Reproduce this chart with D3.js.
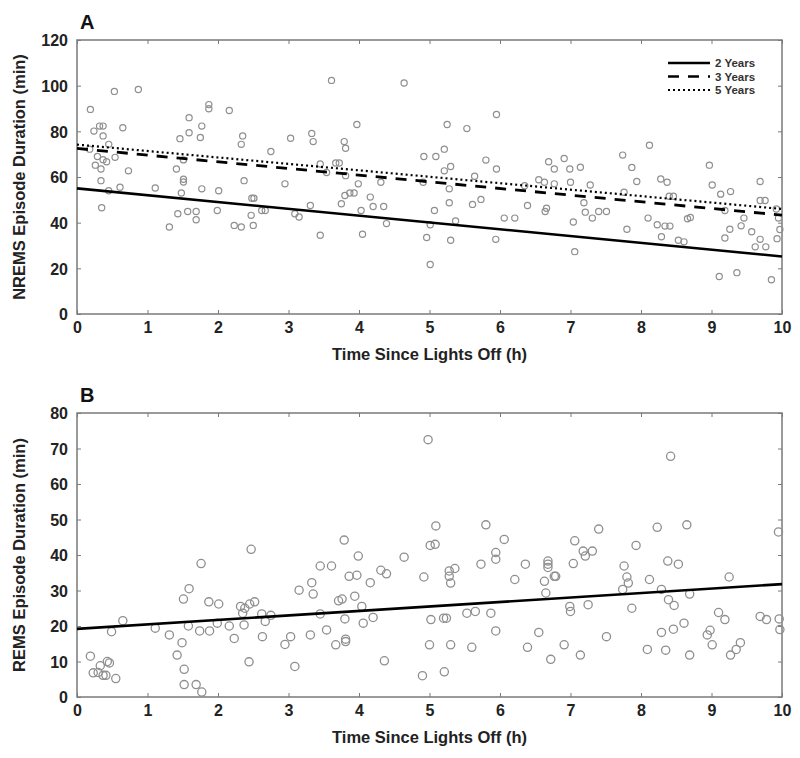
<!DOCTYPE html>
<html><head><meta charset="utf-8">
<script src="https://cdn.jsdelivr.net/npm/d3@7"></script>
<style>
body{margin:0;background:#fff;}
svg text{font-family:"Liberation Sans",Arial,Helvetica,sans-serif;font-weight:bold;}
</style></head>
<body><svg id="c" width="800" height="758"></svg>
<script>
// ---------- Data ----------
const xTicks = [0,1,2,3,4,5,6,7,8,9,10];
const yTicksA = [0,20,40,60,80,100,120];
const yTicksB = [0,10,20,30,40,50,60,70,80];

// Panel A: NREMS episodes
const nremsX = [0.19,0.53,0.87,0.24,0.32,0.37,0.37,0.65,0.45,0.18,0.29,0.37,0.54,0.42,0.26,0.34,0.73,0.34,0.45,0.61,0.35,1.11,1.31,1.43,1.57,1.69,1.69,1.48,1.51,1.51,1.41,1.51,1.46,1.59,1.59,1.75,1.77,1.87,1.87,2.16,2.35,2.33,1.77,2.01,1.99,2.23,2.33,2.37,
2.50,2.47,2.48,2.51,2.62,2.67,2.75,2.95,3.03,3.09,3.15,3.31,3.33,3.35,3.45,3.45,3.54,3.61,3.67,3.72,3.75,3.80,3.87,3.93,3.79,3.81,3.81,3.97,3.99,4.03,4.05,4.16,4.20,4.35,4.31,4.39,4.64,
4.92,5.09,5.21,5.25,5.53,5.95,5.21,5.30,4.91,5.28,5.28,5.07,5.01,4.96,5.01,5.30,5.37,5.61,5.73,5.64,5.80,5.95,5.94,6.06,6.21,6.35,6.39,6.55,6.63,6.77,6.69,6.77,6.91,6.99,7.14,7.00,6.64,6.66,7.04,7.19,7.21,7.06,
7.28,7.31,7.40,7.51,7.74,7.76,7.80,7.87,7.94,8.12,8.10,8.23,8.34,8.41,8.29,8.28,8.37,8.40,8.46,8.53,8.61,8.66,8.70,8.97,9.01,9.13,9.27,9.19,9.26,9.42,9.46,9.57,9.19,9.62,9.77,9.69,9.11,9.36,9.69,9.69,9.76,9.85,9.92,9.95,9.97,9.93];
const nremsY = [89.6,97.5,98.3,80.1,82.3,82.3,78.0,81.6,74.3,72.2,69.0,67.6,68.6,66.7,65.2,63.5,62.7,58.4,54.0,55.5,46.5,55.2,38.1,43.9,44.9,44.9,41.3,53.0,57.8,59.0,63.5,67.5,76.8,79.4,86.0,77.3,82.3,89.9,91.7,89.1,78.0,74.3,54.8,54.0,45.3,38.8,38.1,58.4,
38.8,43.2,50.7,50.7,45.3,45.3,71.2,57.0,77.0,43.9,42.5,47.5,79.1,75.5,34.5,65.7,62.0,102.3,66.1,66.1,48.3,51.9,53.0,53.0,75.5,72.6,60.6,83.0,57.0,45.3,34.9,51.2,47.1,47.1,57.7,39.6,101.2,
69.0,69.0,72.2,83.0,81.2,87.4,62.7,64.6,57.7,54.8,48.7,45.3,39.1,33.5,21.7,32.3,40.7,48.0,50.2,60.3,67.4,63.5,32.7,42.0,42.0,56.2,47.5,58.8,57.7,57.0,66.7,63.5,68.1,63.5,64.3,57.7,44.9,46.3,40.3,48.7,44.6,27.3,
56.5,42.0,44.9,44.9,69.6,53.3,37.1,64.2,58.0,73.9,42.0,39.1,38.5,38.5,33.8,59.1,57.7,51.6,51.6,32.3,31.6,41.7,42.3,65.2,56.5,52.5,53.6,45.3,37.1,38.6,42.0,36.0,33.3,29.4,29.4,32.7,16.4,18.1,58.0,49.7,49.7,15.0,46.0,42.0,37.0,33.0];

// Panel B: REMS episodes
const remsX = [0.19,0.33,0.46,0.23,0.30,0.37,0.41,0.55,0.43,0.49,0.65,1.11,1.31,1.49,1.42,1.52,1.52,1.69,1.77,1.51,1.59,1.76,1.58,1.74,1.88,1.87,2.01,1.99,2.16,2.23,2.32,2.35,2.37,2.45,2.44,2.47,
2.52,2.38,2.62,2.67,2.75,2.63,2.95,3.03,3.09,3.15,3.31,3.33,3.35,3.45,3.61,3.45,3.54,3.67,3.71,3.76,3.80,3.79,3.81,3.81,3.86,3.97,3.94,3.99,4.04,4.06,4.16,4.20,4.31,4.39,4.36,4.64,
4.92,4.90,5.09,5.01,5.08,5.02,5.20,5.24,5.00,5.21,5.28,5.36,5.28,5.30,5.30,5.53,5.65,5.60,5.73,5.80,5.87,5.94,5.94,5.94,6.06,6.21,6.36,6.39,6.55,6.63,6.65,6.68,6.68,6.68,6.77,6.79,6.72,6.91,6.99,7.00,7.04,7.06,7.14,7.18,7.21,7.25,4.98,
7.31,7.40,7.51,7.74,7.76,7.80,7.82,7.87,7.93,8.09,8.12,8.23,8.29,8.29,8.35,8.38,8.39,8.47,8.42,8.46,8.53,8.61,8.65,8.69,8.69,8.94,8.98,9.01,9.10,9.19,9.25,9.27,9.35,9.41,9.69,9.78,9.95,9.96,9.97];
const remsY = [11.5,8.8,9.6,6.8,6.9,6.1,6.1,5.2,10.0,18.4,21.5,19.4,17.5,15.3,11.8,7.8,3.5,3.5,1.4,27.6,30.5,37.6,20.0,18.6,18.6,26.8,26.2,20.8,20.0,16.5,25.5,23.6,20.3,26.2,9.9,41.6,
26.8,25.0,23.4,21.3,23.0,17.0,14.8,17.0,8.6,30.1,17.5,32.2,29.0,36.9,36.9,23.4,18.9,14.7,27.1,27.6,22.0,44.2,16.3,15.6,34.0,34.3,28.4,39.7,25.5,20.8,32.2,22.4,35.7,34.7,10.2,39.4,
33.8,6.0,48.2,42.7,43.0,21.8,22.2,22.2,14.7,7.1,35.5,36.2,34.0,32.1,14.7,23.6,24.1,14.0,37.4,48.5,23.6,18.6,40.7,38.8,44.4,33.1,37.4,14.0,18.2,32.6,29.3,38.3,37.4,36.5,34.0,34.0,10.6,14.7,25.5,24.1,37.6,44.0,11.8,41.1,39.7,26.0,72.5,
41.1,47.3,17.0,30.3,36.9,33.8,32.1,25.0,42.7,13.4,33.1,47.8,30.3,18.2,13.2,38.3,27.4,25.8,67.8,19.1,37.4,20.8,48.5,29.0,11.8,17.5,18.8,14.7,23.8,21.8,33.8,11.8,13.4,15.3,22.7,21.8,46.5,22.0,19.0];

// Regression lines: [value at 0 h, value at 10 h]
const groups = ["2 Years","3 Years","5 Years"];
const fitA2 = [55.0, 25.2];
const fitA3 = [72.5, 43.3];
const fitA5 = [74.2, 46.0];
const fitB  = [19.2, 31.8];

// ---------- Drawing ----------
const svg = d3.select("#c");
const L = 77, R = 782;
const grey = "#7a7a7a";
const x = d3.scaleLinear().domain([0,10]).range([L,R]);

function panel(top, bottom, yDomain, yTicks, yTitle, letter) {
  const y = d3.scaleLinear().domain(yDomain).range([bottom, top]);
  const g = svg.append("g");
  g.append("rect").attr("x",L).attr("y",top).attr("width",R-L).attr("height",bottom-top)
    .attr("fill","none").attr("stroke",grey).attr("stroke-width",1.5);
  const ax = g.append("g").attr("transform",`translate(0,${bottom})`)
    .call(d3.axisBottom(x).tickValues(xTicks).tickSize(-4).tickPadding(8).tickFormat(d3.format("d")));
  const axTop = g.append("g").attr("transform",`translate(0,${top})`)
    .call(d3.axisTop(x).tickValues(xTicks).tickSize(-4).tickFormat(""));
  const ay = g.append("g").attr("transform",`translate(${L},0)`)
    .call(d3.axisLeft(y).tickValues(yTicks).tickSize(-4).tickPadding(9).tickFormat(d3.format("d")));
  const ayR = g.append("g").attr("transform",`translate(${R},0)`)
    .call(d3.axisRight(y).tickValues(yTicks).tickSize(-4).tickFormat(""));
  [ax,axTop,ay,ayR].forEach(a=>{
    a.select(".domain").remove();
    a.selectAll(".tick line").attr("stroke",grey);
    a.selectAll("text").attr("font-size",16).attr("fill","#222");
  });
  ay.selectAll("text").attr("dy","0.36em");
  g.append("text").attr("x",(L+R)/2).attr("y",bottom+46).attr("text-anchor","middle")
    .attr("font-size",16.5).attr("fill","#222").text("Time Since Lights Off (h)");
  g.append("text").attr("transform",`translate(25,${(top+bottom)/2}) rotate(-90)`)
    .attr("text-anchor","middle").attr("font-size",16.5).attr("fill","#222").text(yTitle);
  g.append("text").attr("x",80).attr("y",top-11).attr("font-size",20).attr("fill","#111").text(letter);
  return {y,g};
}

// Panel A
const A = panel(40, 314, [0,120], yTicksA, "NREMS Episode Duration (min)", "A");
A.g.append("g").selectAll("circle").data(d3.range(nremsX.length)).join("circle")
  .attr("cx",i=>x(nremsX[i])).attr("cy",i=>A.y(nremsY[i])).attr("r",3.1)
  .attr("fill","none").attr("stroke","#8f8f8f").attr("stroke-width",1.2);
const lineStyles = [
  {fit:fitA2, dash:null, w:2.6},
  {fit:fitA3, dash:"11,9", w:2.8},
  {fit:fitA5, dash:"2,3", w:2.2}
];
lineStyles.forEach(s=>{
  A.g.append("line").attr("x1",x(0)).attr("x2",x(10)).attr("y1",A.y(s.fit[0])).attr("y2",A.y(s.fit[1]))
    .attr("stroke","#000").attr("stroke-width",s.w).attr("stroke-dasharray",s.dash);
});
const leg = A.g.append("g");
groups.forEach((name,i)=>{
  const yy = 63 + i*13.5;
  leg.append("line").attr("x1",668).attr("x2",710).attr("y1",yy).attr("y2",yy)
    .attr("stroke","#000").attr("stroke-width",lineStyles[i].w*0.95).attr("stroke-dasharray",lineStyles[i].dash);
  leg.append("text").attr("x",715).attr("y",yy).attr("dy","0.36em").attr("font-size",11.5)
    .attr("fill","#333").text(name);
});

// Panel B
const B = panel(413, 697, [0,80], yTicksB, "REMS Episode Duration (min)", "B");
B.g.append("g").selectAll("circle").data(d3.range(remsX.length)).join("circle")
  .attr("cx",i=>x(remsX[i])).attr("cy",i=>B.y(remsY[i])).attr("r",4.1)
  .attr("fill","none").attr("stroke","#8f8f8f").attr("stroke-width",1.3);
B.g.append("line").attr("x1",x(0)).attr("x2",x(10)).attr("y1",B.y(fitB[0])).attr("y2",B.y(fitB[1]))
  .attr("stroke","#000").attr("stroke-width",2.6);
</script></body></html>
